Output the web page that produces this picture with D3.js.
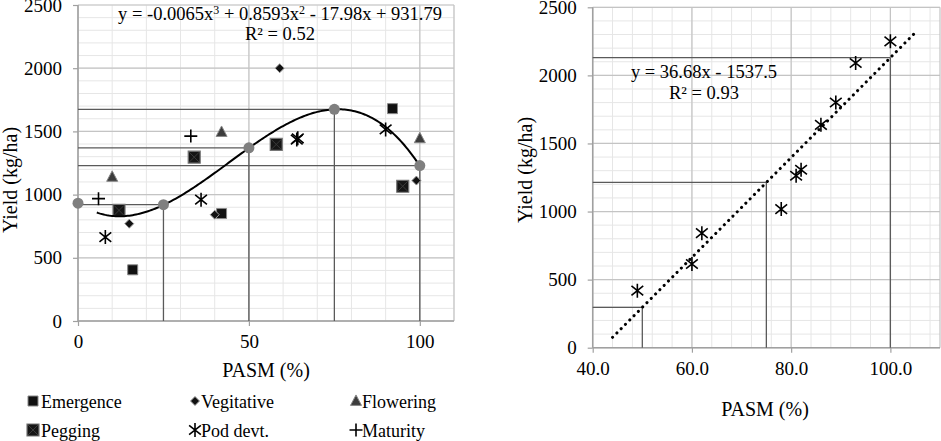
<html lang="en">
<head>
<style>
	body { margin: 0; background: #fff; }
	svg text { font-family: "Liberation Serif", "Tinos", "DejaVu Serif", serif !important; fill: #000; }
</style>
</head>
<body>
<svg width="941" height="441"></svg>
<script type='text/javascript' src='https://d3js.org/d3.v7.min.js'></script>
<script>
	// ---- left chart data (PASM %, yield kg/ha) ----
	var yTicks = [0, 500, 1000, 1500, 2000, 2500];
	var leftXTicks = [0, 50, 100];
	var emergence = [[16, 405], [42, 850], [92, 1680]];
	var pegging = [[12, 875], [34, 1296], [58, 1397], [95, 1066]];
	var vegitative = [[15, 770], [40, 841], [59, 2000], [99, 1111]];
	var flowering = [[10, 1140], [42, 1495], [100, 1445]];
	var podDevt = [[8, 664], [36, 960], [64, 1435], [64.3, 1445], [90, 1516]];
	var maturity = [[6, 968], [33, 1463]];
	var meanPASM = [0, 25, 50, 75, 100];
	var meanYield = [932, 920, 1370, 1675, 1230];
	var polyCoef = [931.79, -17.98, 0.8593, -0.0065];   // trendline shown on chart
	var polyRange = [5.5, 100];

	// ---- right chart data ----
	var rightXTicks = [40, 60, 80, 100];
	var podPASM = [49, 60, 62, 78, 81, 82, 86, 89, 93, 100];
	var podYield = [419, 615, 841, 1018, 1263, 1307, 1637, 1801, 2091, 2250];
	var linCoef = [-1537.5, 36.68];
	var linRange = [44, 104.7];
	var dropPASM = [50, 75, 100];

	var svg = d3.select("svg");
	var gridMajor = "#c4c4c4", gridMinor = "#e6e6e6", axisCol = "#a0a0a0", dropCol = "#5a5a5a";

	function poly(c, x) {
		var s = 0;
		for (var i = 0; i < c.length; i++) s += c[i] * Math.pow(x, i);
		return s;
	}

	function drawFrame(g, x, y, xMinor, xMajor, xTicks, fmt) {
		var x0 = x.domain()[0], x1 = x.domain()[1];
		// minor grid
		g.selectAll(".ym").data(d3.range(0, 2501, 100)).enter().append("line")
			.attr("x1", x(x0)).attr("x2", x(x1)).attr("y1", d => y(d)).attr("y2", d => y(d))
			.attr("stroke", gridMinor).attr("stroke-width", 1);
		g.selectAll(".xm").data(d3.range(x0, x1 + 0.01, xMinor)).enter().append("line")
			.attr("x1", d => x(d)).attr("x2", d => x(d)).attr("y1", y(0)).attr("y2", y(2500))
			.attr("stroke", gridMinor).attr("stroke-width", 1);
		// major grid
		g.selectAll(".yM").data(yTicks).enter().append("line")
			.attr("x1", x(x0)).attr("x2", x(x1)).attr("y1", d => y(d)).attr("y2", d => y(d))
			.attr("stroke", gridMajor).attr("stroke-width", 1.2);
		g.selectAll(".xM").data(d3.range(x0, x1 + 0.01, xMajor)).enter().append("line")
			.attr("x1", d => x(d)).attr("x2", d => x(d)).attr("y1", y(0)).attr("y2", y(2500))
			.attr("stroke", gridMajor).attr("stroke-width", 1.2);
		g.append("line").attr("x1", x(x1)).attr("x2", x(x1)).attr("y1", y(0)).attr("y2", y(2500))
			.attr("stroke", gridMajor).attr("stroke-width", 1.2);

		// axes
		var ax = g.append("g").attr("transform", "translate(0," + y(0) + ")")
			.call(d3.axisBottom(x).tickValues(xTicks).tickSize(5).tickPadding(9).tickFormat(fmt));
		var ay = g.append("g").attr("transform", "translate(" + x(x0) + ",0)")
			.call(d3.axisLeft(y).tickValues(yTicks).tickSize(5).tickPadding(11).tickFormat(d3.format("d")));
		[ax, ay].forEach(function(a) {
			a.attr("font-family", null);
			a.select(".domain").attr("stroke", axisCol).attr("stroke-width", 1.5);
			a.selectAll(".tick line").attr("stroke", axisCol).attr("stroke-width", 1.2);
			a.selectAll("text").style("font-size", "19px").attr("fill", "#000");
		});
		ay.select(".domain").attr("d", "M0," + y(0) + "V" + y(2500));
		ax.select(".domain").attr("d", "M" + x(x0) + ",0H" + x(x1));
	}

	// marker shapes
	var sq = function(s) { return "M" + (-s/2) + "," + (-s/2) + "h" + s + "v" + s + "h" + (-s) + "Z"; };
	var dia = function(s) { return "M0," + (-s/2) + "L" + (s/2) + ",0L0," + (s/2) + "L" + (-s/2) + ",0Z"; };
	var tri = function(s) { return "M0," + (-s*0.55) + "L" + (s/2) + "," + (s*0.4) + "L" + (-s/2) + "," + (s*0.4) + "Z"; };
	var plus = function(s) { return "M" + (-s/2) + ",0H" + (s/2) + "M0," + (-s/2) + "V" + (s/2); };
	var star = function(s) {
		var a = s / 2, b = s * 0.42;
		return "M0," + (-a) + "V" + a + "M" + (-b) + "," + (-b*0.8) + "L" + b + "," + (b*0.8) +
			"M" + b + "," + (-b*0.8) + "L" + (-b) + "," + (b*0.8);
	};

	function markers(g, pts, x, y, kind) {
		var sel = g.append("g").selectAll("g").data(pts).enter().append("g")
			.attr("transform", d => "translate(" + x(d[0]) + "," + y(d[1]) + ")");
		drawMarker(sel, kind);
	}

	function drawMarker(sel, kind) {
		if (kind == "emergence") {
			sel.append("path").attr("d", sq(10)).attr("fill", "#111").attr("stroke", "#888").attr("stroke-width", 1);
		} else if (kind == "pegging") {
			sel.append("path").attr("d", sq(12)).attr("fill", "#151515").attr("stroke", "#777").attr("stroke-width", 1.2);
			sel.append("path").attr("d", "M-5,-5L5,5M5,-5L-5,5").attr("stroke", "#3a3a3a").attr("stroke-width", 1);
		} else if (kind == "vegitative") {
			sel.append("path").attr("d", dia(9)).attr("fill", "#111").attr("stroke", "#999").attr("stroke-width", 1);
		} else if (kind == "flowering") {
			sel.append("path").attr("d", tri(11)).attr("fill", "#3c3c3c").attr("stroke", "#888").attr("stroke-width", 1);
		} else if (kind == "pod") {
			sel.append("path").attr("d", star(14)).attr("fill", "none").attr("stroke", "#000").attr("stroke-width", 1.6);
		} else if (kind == "maturity") {
			sel.append("path").attr("d", plus(13)).attr("fill", "none").attr("stroke", "#000").attr("stroke-width", 1.6);
		}
	}

	// ================= LEFT CHART =================
	var xL = d3.scaleLinear().domain([0, 110]).range([78, 454]);
	var yL = d3.scaleLinear().domain([0, 2500]).range([321, 5]);
	var gL = svg.append("g");
	drawFrame(gL, xL, yL, 10, 50, leftXTicks, d3.format("d"));

	// drop lines to the mean points
	meanPASM.forEach(function(p, i) {
		if (p > 0) {
			gL.append("line").attr("x1", xL(0)).attr("x2", xL(p)).attr("y1", yL(meanYield[i])).attr("y2", yL(meanYield[i]))
				.attr("stroke", dropCol).attr("stroke-width", 1.3);
			gL.append("line").attr("x1", xL(p)).attr("x2", xL(p)).attr("y1", yL(0)).attr("y2", yL(meanYield[i]))
				.attr("stroke", dropCol).attr("stroke-width", 1.3);
		}
	});

	markers(gL, emergence, xL, yL, "emergence");
	markers(gL, pegging, xL, yL, "pegging");
	markers(gL, vegitative, xL, yL, "vegitative");
	markers(gL, flowering, xL, yL, "flowering");
	markers(gL, podDevt, xL, yL, "pod");
	markers(gL, maturity, xL, yL, "maturity");

	// polynomial trendline
	var curve = d3.range(polyRange[0], polyRange[1] + 0.01, 0.5).map(function(v) { return [v, poly(polyCoef, v)]; });
	gL.append("path").datum(curve)
		.attr("d", d3.line().x(d => xL(d[0])).y(d => yL(d[1])))
		.attr("fill", "none").attr("stroke", "#000").attr("stroke-width", 2);

	gL.selectAll(".mean").data(meanPASM).enter().append("circle")
		.attr("cx", d => xL(d)).attr("cy", (d, i) => yL(meanYield[i])).attr("r", 5.5)
		.attr("fill", "#7f7f7f");

	gL.append("text").attr("x", 280).attr("y", 20).attr("text-anchor", "middle").style("font-size", "18.5px")
		.html("y = -0.0065x<tspan dy='-6' font-size='12'>3</tspan><tspan dy='6'> + 0.8593x</tspan><tspan dy='-6' font-size='12'>2</tspan><tspan dy='6'> - 17.98x + 931.79</tspan>");
	gL.append("text").attr("x", 280).attr("y", 40).attr("text-anchor", "middle").style("font-size", "18.5px")
		.text("R² = 0.52");

	gL.append("text").attr("transform", "translate(17,180) rotate(-90)").attr("text-anchor", "middle")
		.style("font-size", "20px").text("Yield (kg/ha)");
	gL.append("text").attr("x", 266).attr("y", 377).attr("text-anchor", "middle")
		.style("font-size", "20px").text("PASM (%)");

	// legend
	var legendItems = [
		{ name: "Emergence", kind: "emergence", x: 33, y: 401 },
		{ name: "Vegitative", kind: "vegitative", x: 195, y: 401 },
		{ name: "Flowering", kind: "flowering", x: 356, y: 401 },
		{ name: "Pegging", kind: "pegging", x: 33, y: 430 },
		{ name: "Pod devt.", kind: "pod", x: 195, y: 430 },
		{ name: "Maturity", kind: "maturity", x: 356, y: 430 }
	];
	var lg = svg.append("g").selectAll("g").data(legendItems).enter().append("g")
		.attr("transform", d => "translate(" + d.x + "," + d.y + ")");
	lg.each(function(d) {
		var m = d3.select(this).append("g");
		drawMarker(m, d.kind);
	});
	lg.append("text").attr("x", d => d.kind == "emergence" || d.kind == "pegging" ? 8 : 6).attr("y", 6.5)
		.style("font-size", "18px").text(d => d.name);

	// ================= RIGHT CHART =================
	var xR = d3.scaleLinear().domain([40, 110]).range([592.7, 940]);
	var yR = d3.scaleLinear().domain([0, 2500]).range([347.7, 7.3]);
	var gR = svg.append("g");
	drawFrame(gR, xR, yR, 4, 20, rightXTicks, d3.format(".1f"));

	dropPASM.forEach(function(p) {
		var v = poly(linCoef, p);
		gR.append("line").attr("x1", xR(40)).attr("x2", xR(p)).attr("y1", yR(v)).attr("y2", yR(v))
			.attr("stroke", dropCol).attr("stroke-width", 1.3);
		gR.append("line").attr("x1", xR(p)).attr("x2", xR(p)).attr("y1", yR(0)).attr("y2", yR(v))
			.attr("stroke", dropCol).attr("stroke-width", 1.3);
	});

	gR.append("line")
		.attr("x1", xR(linRange[0])).attr("y1", yR(poly(linCoef, linRange[0])))
		.attr("x2", xR(linRange[1])).attr("y2", yR(poly(linCoef, linRange[1])))
		.attr("stroke", "#000").attr("stroke-width", 3).attr("stroke-linecap", "round")
		.attr("stroke-dasharray", "0.1,6");

	markers(gR, podPASM.map((p, i) => [p, podYield[i]]), xR, yR, "pod");

	gR.append("text").attr("x", 704).attr("y", 78).attr("text-anchor", "middle").style("font-size", "18.5px")
		.text("y = 36.68x - 1537.5");
	gR.append("text").attr("x", 704).attr("y", 99).attr("text-anchor", "middle").style("font-size", "18.5px")
		.text("R² = 0.93");

	gR.append("text").attr("transform", "translate(532,170) rotate(-90)").attr("text-anchor", "middle")
		.style("font-size", "20px").text("Yield (kg/ha)");
	gR.append("text").attr("x", 765).attr("y", 416).attr("text-anchor", "middle")
		.style("font-size", "20px").text("PASM (%)");
</script>
</body>
</html>
